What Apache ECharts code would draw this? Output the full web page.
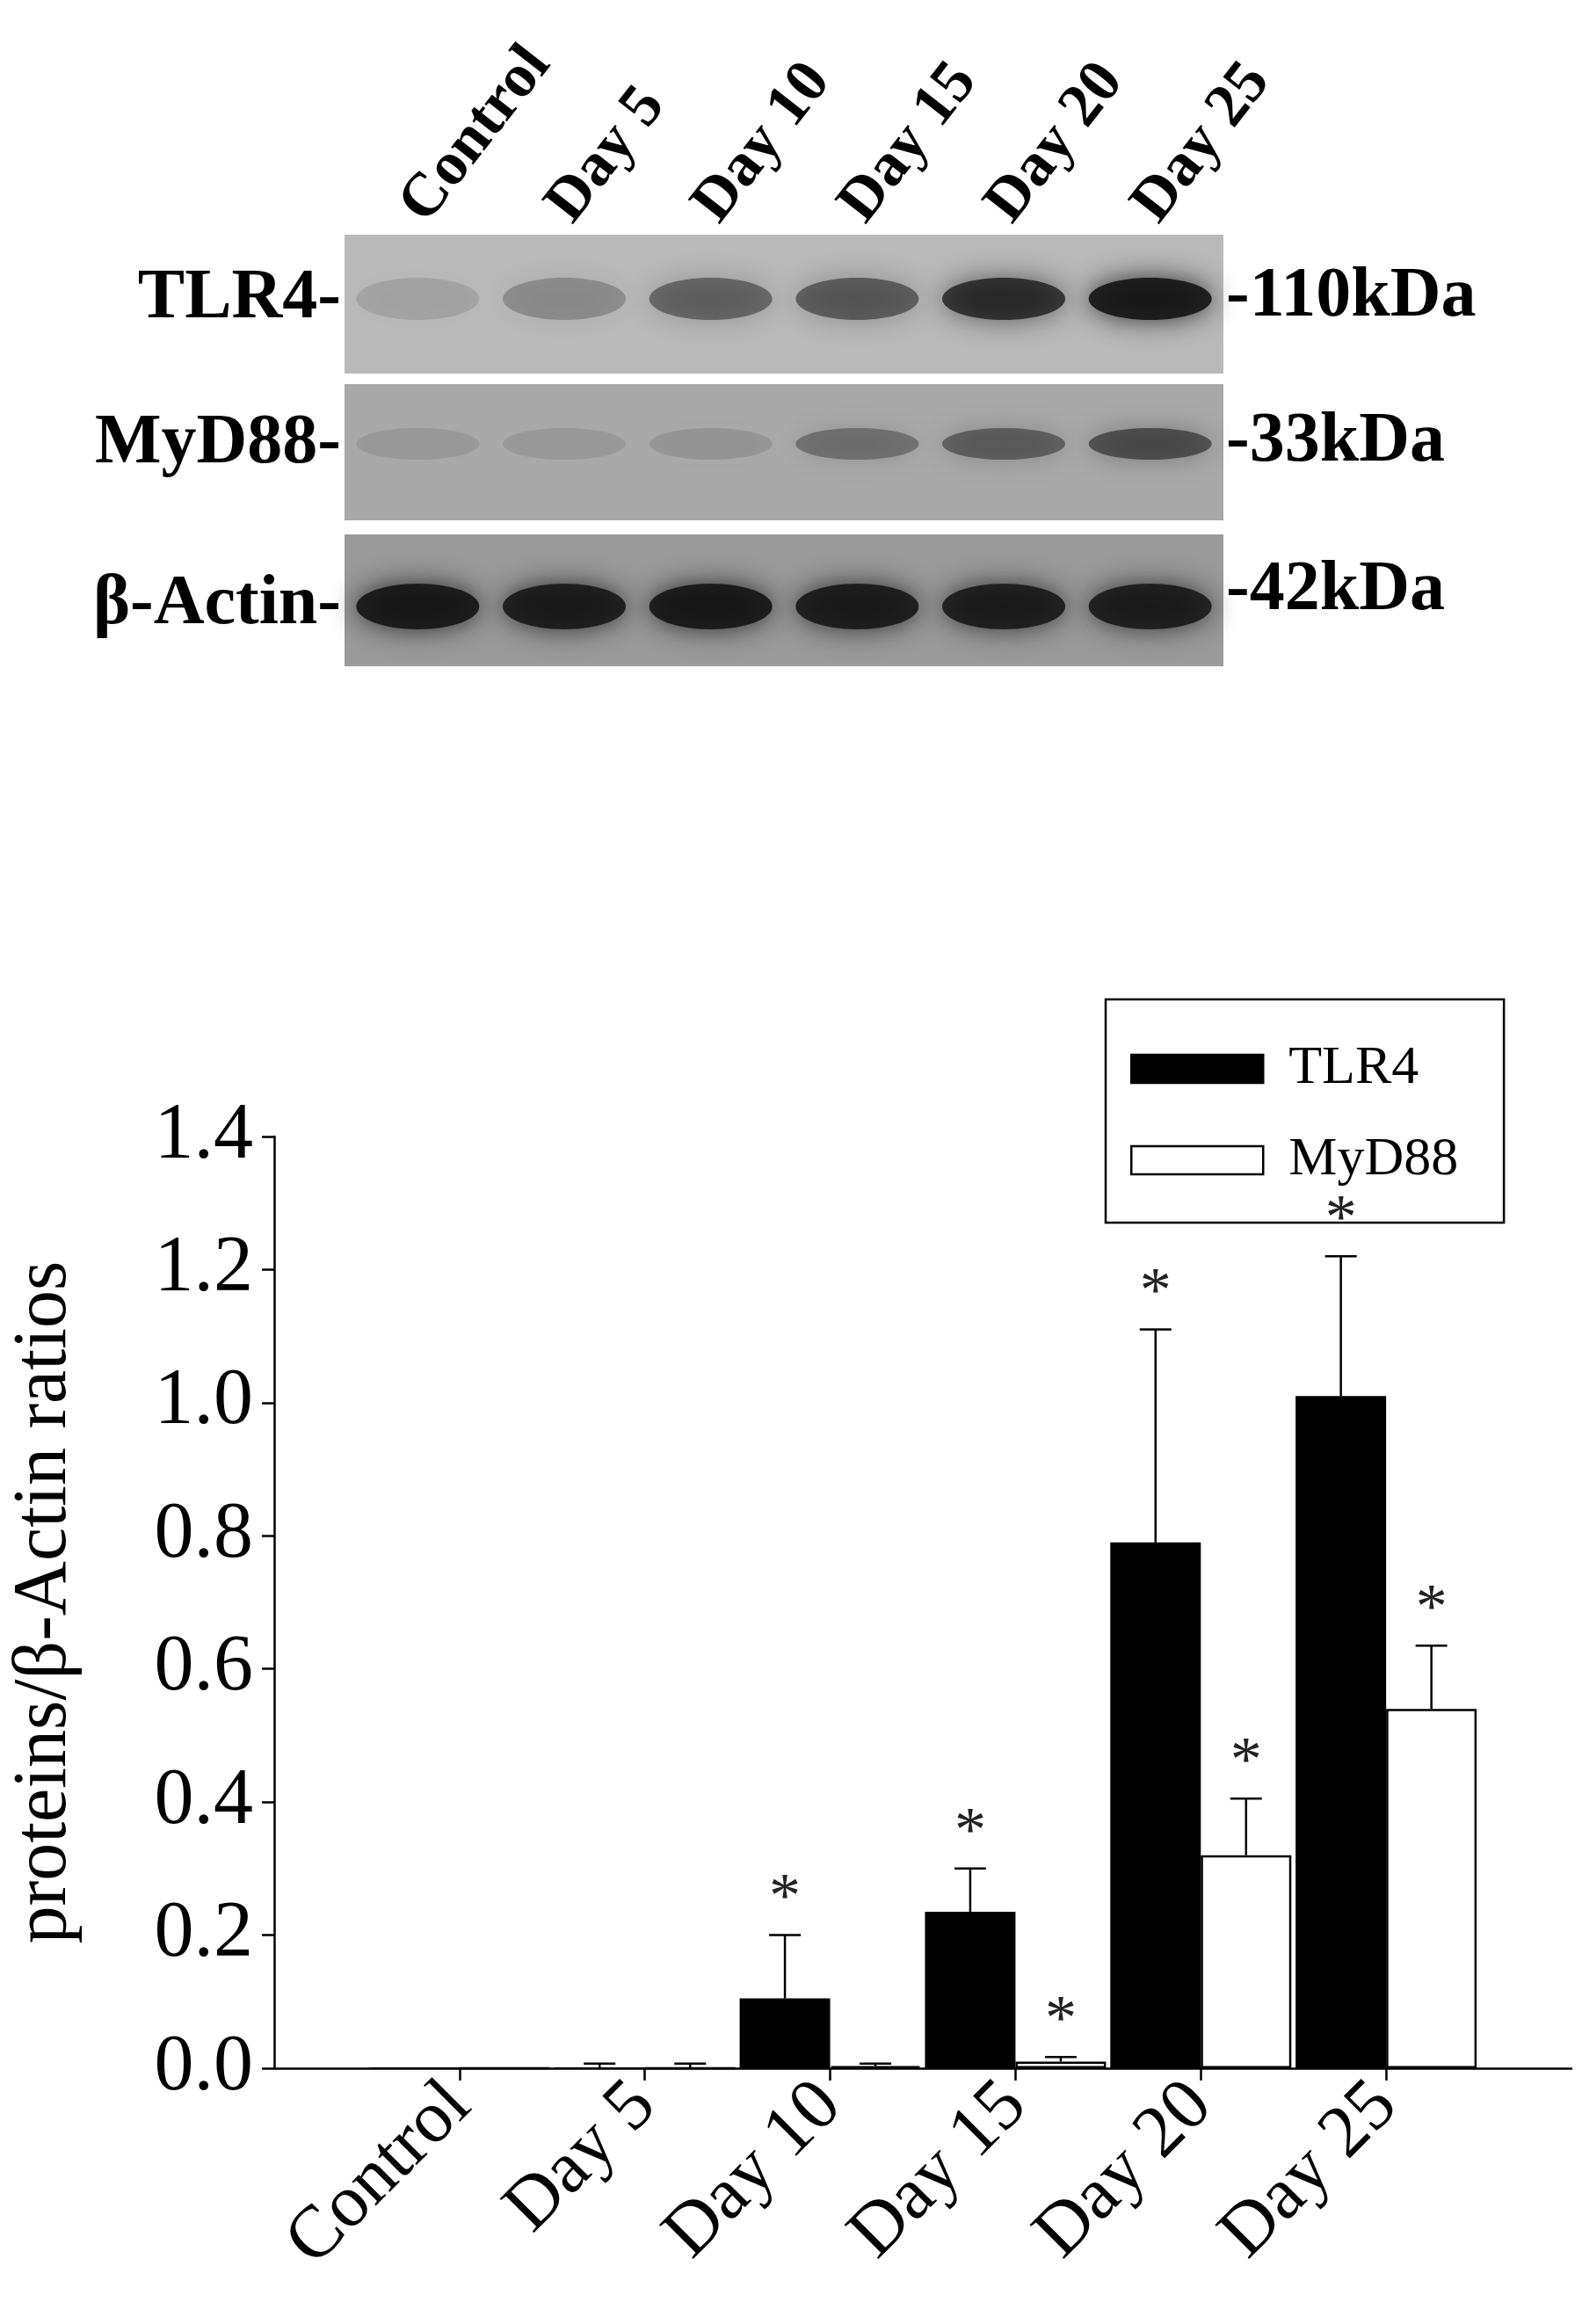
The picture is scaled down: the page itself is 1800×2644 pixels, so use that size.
<!DOCTYPE html>
<html>
<head>
<meta charset="utf-8">
<title>TLR4 / MyD88</title>
<script src="https://cdn.jsdelivr.net/npm/echarts@6/dist/echarts.min.js"></script>
<style>
  html, body { margin: 0; padding: 0; background: #fff; }
  #chart { width: 1800px; height: 2644px; }
</style>
</head>
<body>
<div id="chart"></div>
<script>
// categories (blank ends give the spacing of the original axis)
var categories = ['', 'Control', 'Day 5', 'Day 10', 'Day 15', 'Day 20', 'Day 25', ''];
var tlr4 = [null, 0, 0, 0.105, 0.235, 0.79, 1.01, null];
var tlr4Err = [null, 0, 0.007, 0.20, 0.30, 1.11, 1.22, null];
var tlr4Star = [0, 0, 0, 1, 1, 1, 1, 0];
var myd88 = [null, 0, 0, 0.003, 0.01, 0.32, 0.54, null];
var myd88Err = [null, 0, 0.007, 0.007, 0.017, 0.405, 0.635, null];
var myd88Star = [0, 0, 0, 0, 1, 1, 1, 0];
var yTicks = [0, 0.2, 0.4, 0.6, 0.8, 1.0, 1.2, 1.4];

// blot band darkness per lane (0..1)
var laneNames = ['Control', 'Day 5', 'Day 10', 'Day 15', 'Day 20', 'Day 25'];
var tlr4Band = [0.12, 0.25, 0.45, 0.5, 0.75, 0.9];
var myd88Band = [0.1, 0.1, 0.12, 0.35, 0.45, 0.55];
var actinBand = [0.9, 0.88, 0.9, 0.88, 0.86, 0.86];

var serif = '"Liberation Serif", "DejaVu Serif", serif';
var chart = echarts.init(document.getElementById('chart'));

var BW = 103;

function errSeries(name, err, star, dir) {
  var data = [];
  for (var i = 0; i < err.length; i++) {
    if (err[i] !== null && err[i] > 0) data.push([i, err[i], star[i], (dir < 0 ? tlr4 : myd88)[i]]);
  }
  return {
    type: 'custom', name: name + 'err', z: 5, silent: true,
    data: data,
    renderItem: function (params, api) {
      var top = api.coord([api.value(0), api.value(1)]);
      var base = api.coord([api.value(0), api.value(3)]);
      var x = top[0] + dir * BW / 2;
      var kids = [
        { type: 'line', shape: { x1: x, y1: base[1], x2: x, y2: top[1] }, style: { stroke: '#000', lineWidth: 2.5 } },
        { type: 'line', shape: { x1: x - 18, y1: top[1], x2: x + 18, y2: top[1] }, style: { stroke: '#000', lineWidth: 2.5 } }
      ];
      if (api.value(2)) {
        kids.push({ type: 'text', style: { text: '*', x: x, y: top[1] - 4, align: 'center', verticalAlign: 'bottom', font: '72px ' + serif, fill: '#222' } });
      }
      return { type: 'group', children: kids };
    }
  };
}

// blot graphics
var panelX = 392, panelW = 1000, laneW = panelW / 6;
var g = [];
function panel(y, h, bands, bandY, bandH, bg) {
  g.push({ type: 'rect', shape: { x: panelX, y: y, width: panelW, height: h }, style: { fill: bg } });
  for (var i = 0; i < bands.length; i++) {
    var cx = panelX + laneW * (i + 0.5);
    var a = bands[i];
    g.push({
      type: 'ellipse', z: 2,
      shape: { cx: cx, cy: bandY, rx: laneW * 0.42, ry: bandH },
      style: { fill: 'rgba(20,20,20,' + a + ')', shadowBlur: 30, shadowColor: 'rgba(20,20,20,' + a + ')' }
    });
  }
}
panel(267, 158, tlr4Band, 340, 24, '#b9b9b9');
panel(437, 155, myd88Band, 505, 18, '#a9a9a9');
panel(608, 150, actinBand, 690, 26, '#9a9a9a');
// clip band blur at panel edges with white separators
g.push({ type: 'rect', z: 3, shape: { x: panelX, y: 425, width: panelW, height: 12 }, style: { fill: '#fff' } });
g.push({ type: 'rect', z: 3, shape: { x: panelX, y: 592, width: panelW, height: 16 }, style: { fill: '#fff' } });
g.push({ type: 'rect', z: 3, shape: { x: panelX, y: 758, width: panelW, height: 30 }, style: { fill: '#fff' } });

var leftLabels = [['TLR4-', 340], ['MyD88-', 505], ['β-Actin-', 688]];
var rightLabels = [['-110kDa', 338], ['-33kDa', 503], ['-42kDa', 672]];
leftLabels.forEach(function (l) {
  g.push({ type: 'text', z: 4, style: { text: l[0], x: 388, y: l[1], align: 'right', verticalAlign: 'middle', font: 'bold 80px ' + serif, fill: '#000' } });
});
rightLabels.forEach(function (l) {
  g.push({ type: 'text', z: 4, style: { text: l[0], x: 1395, y: l[1], align: 'left', verticalAlign: 'middle', font: 'bold 80px ' + serif, fill: '#000' } });
});
laneNames.forEach(function (n, i) {
  g.push({
    type: 'text', z: 4, x: panelX + laneW * (i + 0.5) - 5, y: 245, rotation: Math.PI * 52 / 180,
    style: { text: n, x: 0, y: 0, align: 'left', verticalAlign: 'middle', font: 'bold 70px ' + serif, fill: '#000' }
  });
});

chart.setOption({
  animation: false,
  backgroundColor: '#fff',
  grid: { left: 308, right: 12, top: 1293, bottom: 291, containLabel: false },
  legend: {
    left: 1258, top: 1137,
    orient: 'vertical', padding: [48, 52, 40, 28], itemGap: 42,
    borderColor: '#000', borderWidth: 2.5,
    itemWidth: 150, itemHeight: 32, icon: 'rect',
    itemStyle: { borderColor: '#000', borderWidth: 2.5 },
    textStyle: { fontFamily: serif, fontSize: 62, color: '#000', padding: [0, 0, 0, 24] },
    data: ['TLR4', 'MyD88']
  },
  xAxis: {
    type: 'category', data: categories, boundaryGap: false,
    axisLine: { lineStyle: { color: '#000', width: 2.5 } },
    axisTick: { length: 14, lineStyle: { color: '#000', width: 2.5 }, interval: function (i, v) { return v !== ''; } },
    axisLabel: {
      rotate: 45, fontFamily: serif, fontSize: 84, color: '#000', margin: 30,
      interval: function (i, v) { return v !== ''; }
    }
  },
  yAxis: {
    type: 'value', min: 0, max: 1.4, interval: 0.2,
    name: 'proteins/β-Actin ratios', nameLocation: 'middle', nameGap: 218, nameRotate: 90,
    nameTextStyle: { fontFamily: serif, fontSize: 86, color: '#000' },
    axisLine: { show: true, lineStyle: { color: '#000', width: 2.5 } },
    axisTick: { show: true, length: 14, lineStyle: { color: '#000', width: 2.5 } },
    splitLine: { show: false },
    axisLabel: {
      fontFamily: serif, fontSize: 90, color: '#000', margin: 24,
      formatter: function (v) { return yTicks.indexOf(Math.round(v * 10) / 10) >= 0 ? v.toFixed(1) : ''; }
    }
  },
  graphic: g,
  series: [
    { name: 'TLR4', type: 'bar', data: tlr4, barWidth: BW, barGap: '0%',
      itemStyle: { color: '#000', borderColor: '#000', borderWidth: 2 } },
    { name: 'MyD88', type: 'bar', data: myd88, barWidth: BW, barGap: '0%',
      itemStyle: { color: '#fff', borderColor: '#000', borderWidth: 2.5 } },
    errSeries('TLR4', tlr4Err, tlr4Star, -1),
    errSeries('MyD88', myd88Err, myd88Star, 1)
  ]
});
</script>
</body>
</html>
